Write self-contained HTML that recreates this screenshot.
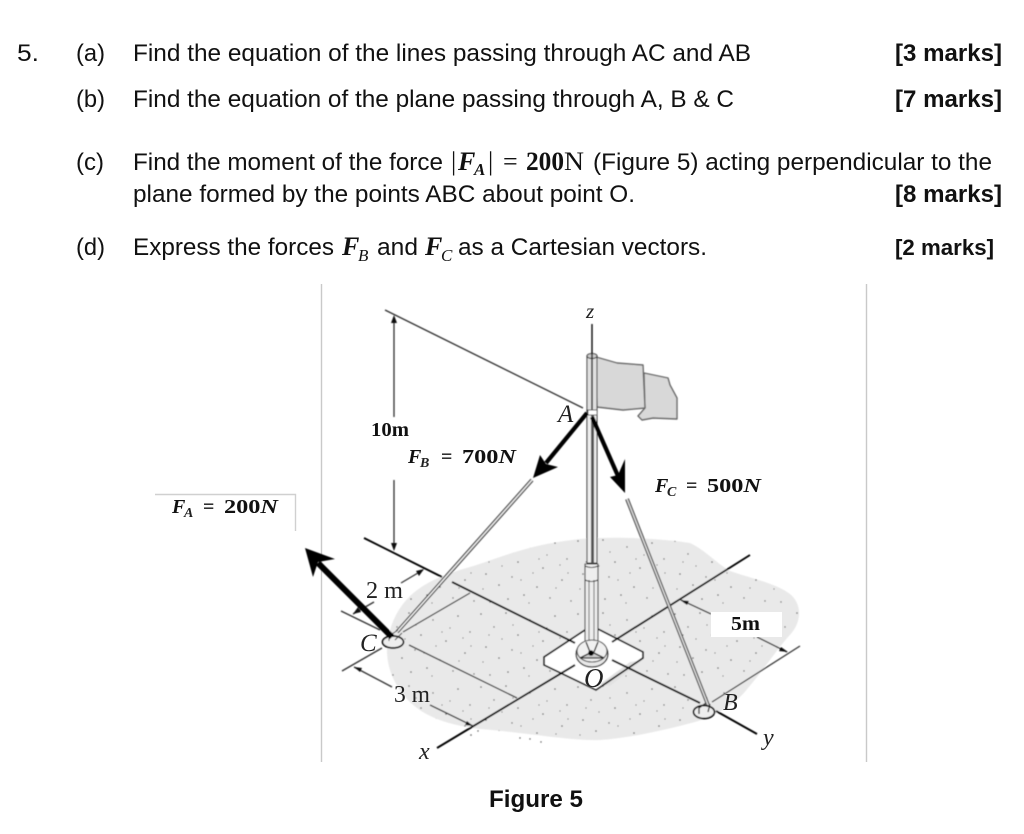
<!DOCTYPE html>
<html lang="en">
<head>
<meta charset="utf-8">
<title>Question 5</title>
<style>
html,body{margin:0;padding:0;background:#fff;width:1024px;height:834px;overflow:hidden}
svg{display:block}
.t{font-family:"Liberation Sans",Arial,sans-serif;font-size:24.5px;fill:#111}
.b{font-weight:bold}
.m{font-family:"Liberation Serif",serif;font-size:26px;fill:#111}
.bi{font-weight:bold;font-style:italic}
.s{font-family:"Liberation Serif",serif;font-size:15px;font-style:italic;fill:#222}
.f{font-family:"Liberation Serif",serif;font-weight:bold;font-size:20px;fill:#111}
.l{font-family:"Liberation Serif",serif;fill:#222}
.i{font-style:italic}
</style>
</head>
<body>
<svg width="1024" height="834" viewBox="0 0 1024 834" xmlns="http://www.w3.org/2000/svg">
<defs>
<pattern id="sp" width="97" height="73" patternUnits="userSpaceOnUse" patternTransform="translate(380 535)">
<g fill="#555">
<circle cx="4" cy="6" r=".8"/><circle cx="17" cy="19" r=".7"/><circle cx="29" cy="5" r=".8"/><circle cx="41" cy="27" r=".8"/>
<circle cx="53" cy="12" r=".7"/><circle cx="66" cy="33" r=".8"/><circle cx="78" cy="8" r=".8"/><circle cx="90" cy="24" r=".7"/>
<circle cx="9" cy="39" r=".8"/><circle cx="22" cy="50" r=".8"/><circle cx="35" cy="42" r=".7"/><circle cx="47" cy="60" r=".8"/>
<circle cx="60" cy="52" r=".8"/><circle cx="73" cy="63" r=".7"/><circle cx="85" cy="45" r=".8"/><circle cx="94" cy="66" r=".7"/>
<circle cx="13" cy="67" r=".7"/><circle cx="31" cy="64" r=".8"/><circle cx="70" cy="20" r=".6"/><circle cx="44" cy="45" r=".6"/>
<circle cx="25" cy="31" r=".6"/><circle cx="83" cy="30" r=".6"/><circle cx="56" cy="38" r=".6"/><circle cx="6" cy="54" r=".6"/>
<circle cx="36" cy="17" r=".6"/><circle cx="62" cy="24" r=".6"/><circle cx="12" cy="27" r=".6"/><circle cx="79" cy="53" r=".6"/>
<circle cx="52" cy="68" r=".6"/><circle cx="91" cy="38" r=".6"/>
</g>
</pattern>
<filter id="bl" x="-5%" y="-5%" width="110%" height="110%"><feGaussianBlur stdDeviation="0.45"/></filter>
</defs>

<!-- Question text -->
<text class="t" x="17" y="61" textLength="22" lengthAdjust="spacingAndGlyphs">5.</text>
<text class="t" x="76" y="61" textLength="29" lengthAdjust="spacingAndGlyphs">(a)</text>
<text class="t" x="133" y="61" textLength="618" lengthAdjust="spacingAndGlyphs">Find the equation of the lines passing through AC and AB</text>
<text class="t b" x="895" y="61" textLength="107" lengthAdjust="spacingAndGlyphs">[3 marks]</text>

<text class="t" x="76" y="107" textLength="29" lengthAdjust="spacingAndGlyphs">(b)</text>
<text class="t" x="133" y="107" textLength="601" lengthAdjust="spacingAndGlyphs">Find the equation of the plane passing through A, B &amp; C</text>
<text class="t b" x="895" y="107" textLength="107" lengthAdjust="spacingAndGlyphs">[7 marks]</text>

<text class="t" x="76" y="170" textLength="28" lengthAdjust="spacingAndGlyphs">(c)</text>
<text class="t" x="133" y="170" textLength="310" lengthAdjust="spacingAndGlyphs">Find the moment of the force</text>
<text class="m" x="451" y="170">|</text>
<text class="m bi" x="458" y="170">F</text>
<text class="m bi" x="474" y="175" style="font-size:17px">A</text>
<text class="m" x="488" y="170">|</text>
<text class="m" x="503" y="170">=</text>
<text class="m" x="526" y="170" style="font-weight:bold" textLength="38" lengthAdjust="spacingAndGlyphs">200</text>
<text class="m" x="564" y="170" textLength="20" lengthAdjust="spacingAndGlyphs">N</text>
<text class="t" x="593" y="170" textLength="399" lengthAdjust="spacingAndGlyphs">(Figure 5) acting perpendicular to the</text>
<text class="t" x="133" y="202" textLength="502" lengthAdjust="spacingAndGlyphs">plane formed by the points ABC about point O.</text>
<text class="t b" x="895" y="202" textLength="107" lengthAdjust="spacingAndGlyphs">[8 marks]</text>

<text class="t" x="76" y="255" textLength="29" lengthAdjust="spacingAndGlyphs">(d)</text>
<text class="t" x="133" y="255" textLength="201" lengthAdjust="spacingAndGlyphs">Express the forces</text>
<text class="m bi" x="342" y="255">F</text>
<text class="m" x="358" y="261" style="font-size:17px;font-style:italic">B</text>
<text class="t" x="377" y="255" textLength="41" lengthAdjust="spacingAndGlyphs">and</text>
<text class="m bi" x="425" y="255">F</text>
<text class="m" x="441" y="261" style="font-size:17px;font-style:italic">C</text>
<text class="t" x="458" y="255" textLength="249" lengthAdjust="spacingAndGlyphs">as a Cartesian vectors.</text>
<text class="t b" x="895" y="255" textLength="99" lengthAdjust="spacingAndGlyphs" style="font-size:22.5px">[2 marks]</text>

<text class="t b" x="489" y="807" textLength="94" lengthAdjust="spacingAndGlyphs">Figure 5</text>

<!-- Figure frame -->
<path d="M321.5 284V762M866.5 284V762" stroke="#c9c9c9" stroke-width="1.4" fill="none"/>
<path d="M155 494.500H295.500V531" stroke="#d0d0d0" stroke-width="1.4" fill="none"/>

<g filter="url(#bl)">
<!-- Ground -->
<path d="M387 650C388 628 396 610 410 596C425 582 445 574 470 567C500 558 525 545 580 539C620 536 665 539 690 543C705 550 715 562 730 571C750 578 775 583 790 594C802 604 803 622 788 637C775 652 762 672 748 688C735 705 715 716 695 722C665 730 630 738 600 740C570 741 530 733 480 729C450 725 425 718 408 700C394 685 387 668 387 650Z" fill="#e9e9e9"/>
<path d="M387 650C388 628 396 610 410 596C425 582 445 574 470 567C500 558 525 545 580 539C620 536 665 539 690 543C705 550 715 562 730 571C750 578 775 583 790 594C802 604 803 622 788 637C775 652 762 672 748 688C735 705 715 716 695 722C665 730 630 738 600 740C570 741 530 733 480 729C450 725 425 718 408 700C394 685 387 668 387 650Z" fill="url(#sp)"/>
<g fill="#555"><circle cx="471" cy="735" r=".8"/><circle cx="478" cy="731" r=".7"/><circle cx="520" cy="738" r=".7"/><circle cx="530" cy="739" r=".7"/><circle cx="541" cy="742" r=".7"/></g>

<!-- Plate -->
<path d="M544 657L585 631L598 629L643 652V658L596 690L544 665Z" fill="#fff"/>
<path d="M610 686L643 660L630 662L600 684Z" fill="#e2e2e2"/>
<path d="M585 630L544 657V665L596 690L643 658V652L598 629" fill="none" stroke="#000" stroke-width="1.700"/>

<!-- Axes -->
<g stroke="#000" stroke-width="1.900" fill="none">
<path d="M364 538L442 577M452 582L575 643M612 660L700 703M716 711L757 734"/>
<path d="M437 748L575 665M612 642L750 555"/>
</g>
<!-- Construction lines -->
<g stroke="#333" stroke-width="1.300" fill="none">
<path d="M341 611L380 630M403 632L470 593M342 671L382 648M409 645L517 698"/>
<path d="M712 702L800 646"/>
<path d="M385 310L583 408"/>
<path d="M394 318V417M394 480V548"/>
<path d="M423 570L401 583M374 602L353 614"/>
<path d="M354 667L392 687M430 705L473 726"/>
<path d="M681 600L711 614M757 637L787 652"/>
</g>
<!-- Small arrowheads -->
<g fill="#111">
<path d="M394 315L397 323H391Z"/>
<path d="M394 551L391 543H397Z"/>
<path d="M424 569L416 571L419 576Z"/>
<path d="M353 614L361 612L358 607Z"/>
<path d="M354 667L362 668L360 672Z"/>
<path d="M473 726L465 725L467 721Z"/>
<path d="M680 600L689 601L687 605Z"/>
<path d="M788 652L779 651L781 647Z"/>
</g>

<!-- Flag -->
<path d="M644 373L668 378L670 385L677 398L677 419L653 418L642 420L638 416L645 408Z" fill="#d8d8d8" stroke="#666" stroke-width="1.400" stroke-linejoin="round"/>
<path d="M596 357L617 363L643 365L645 408L623 410L597 407Z" fill="#d8d8d8" stroke="#666" stroke-width="1.400" stroke-linejoin="round"/>

<!-- Pole -->
<path d="M587 356H597V412H587Z" fill="#e0e0e0" stroke="#444" stroke-width="1.100"/>
<ellipse cx="592" cy="356" rx="5" ry="2.500" fill="#ccc" stroke="#333"/>
<path d="M587 410H597V563H587Z" fill="#eee" stroke="#333" stroke-width="1.100"/>
<path d="M591 412H594V563H591Z" fill="#555"/>
<path d="M592 324V410" stroke="#111" stroke-width="1.400"/>
<path d="M585 564H598V646H585Z" fill="#eee" stroke="#333" stroke-width="1.100"/>
<path d="M589 580V644M594 580V644" stroke="#777" stroke-width="1.100"/>
<path d="M585 580C589 582 594 582 598 580" stroke="#333" fill="none"/>
<path d="M585 566C589 568 594 568 598 566" stroke="#333" fill="none"/>
<path d="M588 410H597V415H588Z" fill="#fff" stroke="#555"/>
<!-- Base -->
<ellipse cx="592" cy="654" rx="16" ry="13" fill="#e8e8e8" stroke="#222" stroke-width="1.300"/>
<ellipse cx="592" cy="651" rx="15" ry="11" fill="#f0f0f0" stroke="#444" stroke-width="1.100"/>
<path d="M586 642L590 652M598 642L594 652M580 658L604 658L592 652Z" stroke="#222" fill="#ccc" stroke-width="1.300"/>
<circle cx="591" cy="653" r="2.800" fill="#000"/>

<!-- Rods -->
<path d="M532 480L397 632" stroke="#333" stroke-width="3.800"/>
<path d="M532 480L397 632" stroke="#f2f2f2" stroke-width="1.500"/>
<path d="M627 499L708 705" stroke="#444" stroke-width="3.800"/>
<path d="M627 499L708 705" stroke="#ddd" stroke-width="1.500"/>

<!-- Anchors -->
<ellipse cx="393" cy="642" rx="10.500" ry="6" fill="#eee" stroke="#000" stroke-width="1.700"/>
<path d="M389 641V636L398 630M395 640L402 633" stroke="#333" fill="none"/>
<ellipse cx="704" cy="712" rx="10.500" ry="6.500" fill="#eee" stroke="#000" stroke-width="1.700"/>
<path d="M699 714V708L706 703M708 712L710 704" stroke="#222" fill="none" stroke-width="1.300"/>

<!-- Force arrows -->
<g stroke="#000" stroke-width="4.200" fill="none">
<path d="M587 413L546 463"/>
<path d="M592 417L618 476"/>
<path d="M392 637L318 563" stroke-width="6"/>
</g>
<path d="M533 478L540 455L546 464L558 467Z" fill="#000"/>
<path d="M625 493L610 477L618 475L625 459Z" fill="#000"/>
<path d="M305 548L335 559L318 562L313 577Z" fill="#000"/>
</g>

<!-- 5m label -->
<rect x="711" y="612" width="71" height="25" fill="#fff"/>

<!-- Labels -->
<text class="f" x="371" y="436" textLength="38" lengthAdjust="spacingAndGlyphs">10m</text>
<text class="f" x="731" y="630" textLength="29" lengthAdjust="spacingAndGlyphs">5m</text>

<text class="f bi" x="408" y="463">F</text>
<text class="s" x="420" y="467" style="font-weight:bold;font-size:14px">B</text>
<text class="f" x="441" y="463">=</text>
<text class="f" x="462" y="463" textLength="54" lengthAdjust="spacingAndGlyphs">700<tspan font-style="italic">N</tspan></text>

<text class="f bi" x="655" y="492">F</text>
<text class="s" x="667" y="496" style="font-weight:bold;font-size:14px">C</text>
<text class="f" x="686" y="492">=</text>
<text class="f" x="707" y="492" textLength="54" lengthAdjust="spacingAndGlyphs">500<tspan font-style="italic">N</tspan></text>

<text class="f bi" x="172" y="513">F</text>
<text class="s" x="184" y="517" style="font-weight:bold;font-size:14px">A</text>
<text class="f" x="203" y="513">=</text>
<text class="f" x="224" y="513" textLength="54" lengthAdjust="spacingAndGlyphs">200<tspan font-style="italic">N</tspan></text>

<text class="l" x="366" y="598" font-size="24" textLength="37" lengthAdjust="spacingAndGlyphs">2 m</text>
<text class="l" x="394" y="702" font-size="24" textLength="36" lengthAdjust="spacingAndGlyphs">3 m</text>
<text class="l i" x="360" y="651" font-size="25">C</text>
<text class="l i" x="558" y="422" font-size="25">A</text>
<text class="l i" x="584" y="687" font-size="27">O</text>
<text class="l i" x="723" y="710" font-size="24">B</text>
<text class="l i" x="419" y="759" font-size="24">x</text>
<text class="l i" x="763" y="745" font-size="24">y</text>
<text class="l i" x="586" y="318" font-size="21">z</text>
</svg>
</body>
</html>
